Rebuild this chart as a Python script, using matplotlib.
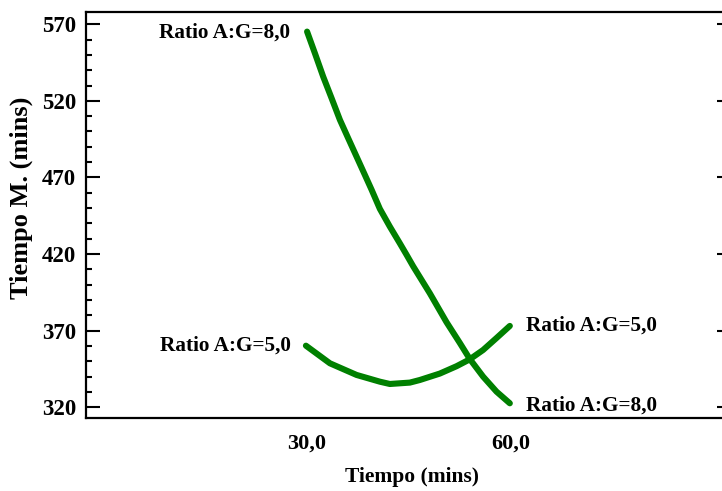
import matplotlib
matplotlib.use("Agg")
import matplotlib.pyplot as plt
from matplotlib.ticker import MultipleLocator

plt.rcParams['font.family'] = ['Liberation Serif', 'DejaVu Serif']
plt.rcParams['font.weight'] = 'bold'

# Data
tiempo_r8 = [30.1, 31.25, 32.47, 33.71, 34.93, 36.15, 37.38, 38.6, 39.59, 40.81, 42.28,
             43.75, 44.74, 45.71, 48.16, 50.62, 52.57, 54.04, 56.0, 57.97, 59.93]
tiempoM_r8 = [565.2, 551.1, 535.8, 521.7, 507.6, 495.6, 483.6, 471.7, 462.0, 449.5, 437.9,
              427.0, 419.5, 412.0, 394.4, 375.5, 362.0, 351.5, 340.0, 330.2, 322.6]
tiempo_r5 = [29.93, 33.46, 37.38, 40.81, 42.28, 45.22, 46.69, 49.63, 52.09, 54.04, 56.0, 57.97, 59.93]
tiempoM_r5 = [360.2, 348.7, 341.1, 336.7, 335.2, 336.1, 337.8, 342.0, 346.8, 351.3, 357.4, 365.2, 373.1]
label_r8 = "Ratio A:G=8,0"
label_r5 = "Ratio A:G=5,0"
xticks = [30, 60]
xticklabels = ["30,0", "60,0"]
yticks = [320, 370, 420, 470, 520, 570]

fig = plt.figure(figsize=(7.22, 4.91), dpi=100)
W, H = 722, 491
left, right, top, bottom = 85.7, 731.0, 12.3, 418.3
ax = fig.add_axes([left / W, 1 - bottom / H, (right - left) / W, (bottom - top) / H])

color = '#008000'
for xs, ys in ((tiempo_r8, tiempoM_r8), (tiempo_r5, tiempoM_r5)):
    ax.plot(xs, ys, color=color, lw=4.4, solid_capstyle='round', solid_joinstyle='round')

ax.set_xlim(-2.47, 92.47)
ax.set_ylim(312.8, 577.8)

ax.set_xticks(xticks)
ax.set_xticklabels(xticklabels)
ax.set_yticks(yticks)
ax.yaxis.set_minor_locator(MultipleLocator(10))

ax.tick_params(axis='x', which='both', length=0, pad=11, labelsize=16)
ax.tick_params(axis='y', which='major', direction='in', length=10, width=1.5, pad=7,
               labelsize=16.5, left=True, right=True)
ax.tick_params(axis='y', which='minor', direction='in', length=4.5, width=1.5,
               left=True, right=True)

for sp in ax.spines.values():
    sp.set_linewidth(1.6)

ax.set_xlabel("Tiempo (mins)", fontsize=15.5, fontweight='bold')
ax.set_ylabel("Tiempo M. (mins)", fontsize=19, fontweight='bold')
ax.xaxis.set_label_coords(0.5055, -0.12)
ax.yaxis.set_label_coords(-0.0817, 0.5426)

fs = 15.3
ax.annotate(label_r8, (tiempo_r8[0], tiempoM_r8[0]), xytext=(-12, -1), textcoords='offset points',
            ha='right', va='center', fontsize=fs, fontweight='bold')
ax.annotate(label_r5, (tiempo_r5[0], tiempoM_r5[0]), xytext=(-11, 0), textcoords='offset points',
            ha='right', va='center', fontsize=fs, fontweight='bold')
ax.annotate(label_r5, (tiempo_r5[-1], tiempoM_r5[-1]), xytext=(11.5, 0), textcoords='offset points',
            ha='left', va='center', fontsize=fs, fontweight='bold')
ax.annotate(label_r8, (tiempo_r8[-1], tiempoM_r8[-1]), xytext=(11.5, -1.5), textcoords='offset points',
            ha='left', va='center', fontsize=fs, fontweight='bold')

fig.savefig("out.png", dpi=100)
